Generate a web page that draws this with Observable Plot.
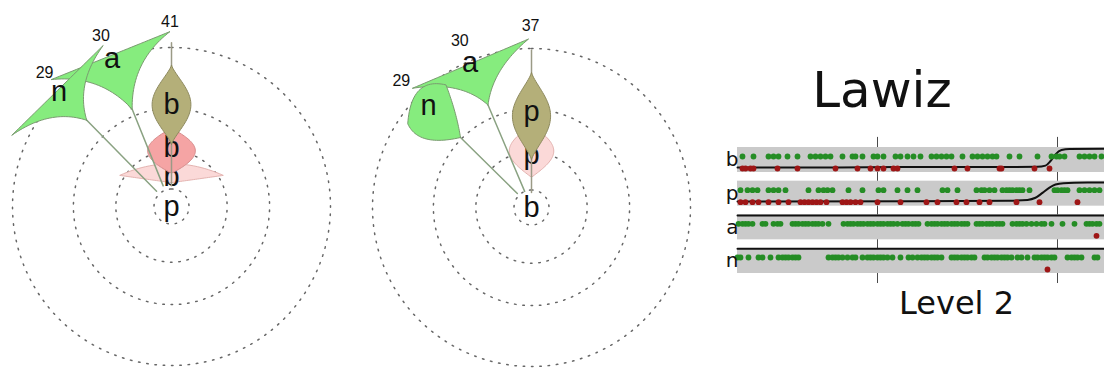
<!DOCTYPE html>
<html>
<head>
<meta charset="utf-8">
<script src="https://cdn.jsdelivr.net/npm/d3@7"></script>
<script src="https://cdn.jsdelivr.net/npm/@observablehq/plot@0.6"></script>
<style>
  html, body { margin: 0; padding: 0; background: #fff; overflow: hidden; }
  #figure { position: relative; width: 1104px; height: 371px; overflow: hidden; }
  .panel { position: absolute; top: 0; }
  .panel svg { max-width: none !important; }
  #title { position: absolute; left: 720px; width: 324px; top: 65px; font: 50px/50px "DejaVu Sans", sans-serif; text-align: center; color: #111; }
</style>
</head>
<body>
<div id="figure">
  <div id="roseLeft" class="panel" style="left:0; width:360px"></div>
  <div id="roseRight" class="panel" style="left:360px; width:360px"></div>
  <div id="title">Lawiz</div>
  <div id="strip" class="panel" style="left:720px; top:120px; width:455px"></div>
</div>
<script>
// ---- rose diagrams ----------------------------------------------------------
// Guide rings (outer ring = 1)
const ringRadii = [0.11, 0.35, 0.617, 1.0];

// Counts printed around the rim and the bearing (deg, clockwise from north) they sit at
const leftCounts = [29, 30, 41];
const leftCountAngles = [-43.5, -22.5, -0.5];
const rightCounts = [29, 30, 37];
const rightCountAngles = [-45.9, -23.3, -0.3];

// Centre category of each rose
const leftCentre = "p";
const rightCentre = "b";

// Petals: bearing, radial extent (r0 stem base, r1..r2 body), spread and bends
const leftPetals = [
  {kind: "fan", cat: "b", shade: "faint", angle: 0, span: 59, r1: 0.15, r2: 0.38, bendL: [0.735, 0.38], bendR: [0.735, 0.38], crown: [0, 0.9], labelR: 0.185},
  {kind: "violin", cat: "b", shade: "mid", angle: 0, r1: 0.21, r2: 0.49, width: 0.15, sharp: 0.9, labelR: 0.372},
  {kind: "violin", cat: "b", shade: "strong", angle: 0, r0: 0.13, tip: 1.03, r1: 0.39, r2: 0.89, width: 0.122, sharp: 1.3, labelR: 0.64},
  {kind: "fan", cat: "a", shade: "pale", angle: -22.5, span: 10.5, r1: 0.66, r2: 0.96, bendL: [0.25, 0.6], bendR: [0.25, 0.6], crown: [0, 1.0]},
  {kind: "fan", cat: "a", shade: "green", angle: -22, span: 21.5, r0: 0.14, r1: 0.66, r2: 1.1, bendL: [0.3, 0.65], bendR: [0.3, 0.65], crown: [0, 0.93], labelR: 1.0},
  {kind: "fan", cat: "n", shade: "green", angle: -44.5, span: 21.5, r0: 0.134, r1: 0.76, r2: 1.1, bendL: [0.3, 0.65], bendR: [0.3, 0.65], crown: [0, 0.93], labelR: 1.01}
];
const rightPetals = [
  {kind: "violin", cat: "p", shade: "faint", angle: 0, r1: 0.19, r2: 0.52, width: 0.14, sharp: 1.0, labelR: 0.33},
  {kind: "violin", cat: "p", shade: "strong", angle: 0, r0: 0.094, tip: 0.99, r1: 0.30, r2: 0.85, width: 0.12, sharp: 1.3, labelR: 0.6},
  {kind: "fan", cat: "a", shade: "green", angle: -23, span: 22, r0: 0.11, r1: 0.70, r2: 1.06, bendL: [0.28, 0.6], bendR: [0.33, 0.57], crown: [0, 0.927], labelR: 0.99},
  {kind: "fan", cat: "n", shade: "green", angle: -45.4, span: 10.5, r0: 0.125, r1: 0.627, r2: 0.94, bendL: [1.58, 0.575], bendR: [0.68, 0.43], crown: [0.27, 1.19], labelR: 0.91}
];

// ---- strip chart ------------------------------------------------------------
const stripRows = ["b", "p", "a", "n"];
const levelTicks = [140, 320];

const bHits = [5, 16, 31, 36, 41, 50, 60, 73, 78, 83, 88, 93, 105, 115, 118, 125, 136, 140, 146, 158, 163, 170, 176, 183, 194, 199, 204, 209, 214, 225, 235, 240, 245, 250, 255, 259, 272, 282, 300, 314, 319, 322, 327, 342, 347, 352, 357, 364];
const bMisses = [5, 8, 13, 16, 40, 60, 98, 120, 133, 140, 146, 156, 160, 217, 230, 262, 264, 297, 312];
const pHits = [3, 10, 15, 20, 31, 36, 41, 48, 71, 81, 86, 90, 95, 111, 125, 141, 146, 160, 170, 180, 205, 210, 220, 239, 244, 247, 252, 257, 265, 269, 272, 275, 279, 282, 285, 292, 317, 320, 324, 327, 330, 342, 347, 352, 357, 362];
const pMisses = [3, 8, 15, 21, 31, 41, 51, 63, 67, 71, 75, 79, 83, 89, 105, 109, 113, 118, 123, 140, 163, 189, 200, 219, 229, 242, 252, 279, 302, 340];
const aHits = [1, 5, 8, 11, 15, 25, 28, 36, 40, 43, 55, 58, 61, 65, 68, 71, 75, 78, 81, 85, 91, 106, 110, 113, 116, 120, 123, 126, 130, 133, 136, 140, 143, 146, 150, 153, 156, 160, 165, 168, 171, 175, 178, 181, 190, 194, 197, 200, 204, 207, 210, 214, 217, 220, 224, 227, 230, 239, 242, 245, 249, 252, 255, 259, 262, 265, 275, 279, 282, 285, 289, 294, 299, 304, 307, 314, 325, 337, 349, 352, 355, 359, 362];
const aMisses = [359];
const nHits = [0, 3, 11, 21, 25, 33, 41, 45, 48, 51, 55, 58, 61, 91, 95, 98, 101, 105, 110, 115, 118, 125, 130, 133, 136, 140, 143, 146, 150, 155, 163, 171, 175, 180, 184, 187, 190, 194, 197, 200, 204, 214, 217, 220, 224, 227, 230, 234, 237, 247, 250, 254, 257, 260, 264, 267, 270, 274, 280, 284, 290, 297, 300, 304, 307, 310, 314, 317, 330, 334, 337, 340, 344, 357, 360];
const nMisses = [310];

// Fitted probability of a hit along the level
const bFit = [[0, 0.03], [100, 0.03], [160, 0.05], [250, 0.05], [300, 0.06], [308, 0.12], [313, 0.36], [318, 0.7], [324, 0.92], [332, 0.98], [438, 1.0]];
const pFit = [[0, 0.01], [180, 0.02], [270, 0.05], [290, 0.09], [298, 0.2], [305, 0.45], [312, 0.72], [318, 0.88], [326, 0.95], [350, 0.98], [438, 1.0]];
const aFit = [[0, 1.02], [438, 1.02]];
const nFit = [[0, 1.04], [438, 1.04]];

// ---- drawing ------------------------------------------------------------------
const shades = {
  faint:  {fill: "#fbd9d8", stroke: "#e4b3b0"},
  mid:    {fill: "#f5a4a4", stroke: "#d68c8c"},
  strong: {fill: "#b4af79", stroke: "#8e8a5f"},
  pale:   {fill: "#e0f7db", stroke: "#a3bf9a"},
  green:  {fill: "#86ec7e", stroke: "#7a9b70"}
};
const stemColour = {strong: "#9b9a86", green: "#8aa282", mid: "#c99", faint: "#c99", pale: "#9b9"};

const rad = d => d * Math.PI / 180;
const polar = (theta, r) => ({x: r * Math.sin(rad(theta)), y: r * Math.cos(rad(theta))});

function quad(p0, c, p1, n = 28) {
  return d3.range(n + 1).map(i => {
    const t = i / n, u = 1 - t;
    return {x: u * u * p0.x + 2 * u * t * c.x + t * t * p1.x, y: u * u * p0.y + 2 * u * t * c.y + t * t * p1.y};
  });
}

// Fan petal: a vertex at r1 opening out to two tips at r2, edges as quadratic curves
function fanOutline(p) {
  const V = polar(p.angle, p.r1);
  const L = polar(p.angle - p.span, p.r2);
  const R = polar(p.angle + p.span, p.r2);
  const cL = polar(p.angle - p.span * p.bendL[0], p.r1 + (p.r2 - p.r1) * p.bendL[1]);
  const cR = polar(p.angle + p.span * p.bendR[0], p.r1 + (p.r2 - p.r1) * p.bendR[1]);
  const cO = polar(p.angle + p.span * p.crown[0], p.r2 * p.crown[1]);
  return [...quad(V, cL, L), ...quad(L, cO, R).slice(1), ...quad(R, cR, V).slice(1)];
}

// Violin petal: symmetric lens laid along the bearing
function violinOutline(p, n = 48) {
  const a = rad(p.angle);
  const ux = Math.sin(a), uy = Math.cos(a), nx = Math.cos(a), ny = -Math.sin(a);
  const side = sgn => d3.range(n + 1).map(i => {
    const t = i / n, r = p.r1 + (p.r2 - p.r1) * t;
    const w = sgn * p.width * Math.pow(Math.sin(Math.PI * t), p.sharp);
    return {x: ux * r + nx * w, y: uy * r + ny * w};
  });
  return [...side(1), ...side(-1).reverse()];
}

function rose(petals, centre, counts, countAngles, countR, cy) {
  const W = 360, H = 371, cx = 171, unit = 159;
  const font = "Liberation Sans, Arial, sans-serif";
  const rings = ringRadii.flatMap((r, k) => d3.range(0, 361, 1.5).map(a => ({k, ...polar(a, r)})));
  const marks = [
    Plot.line(rings, {x: "x", y: "y", z: "k", stroke: "#666", strokeWidth: 1.5, strokeDasharray: "1.5 6.8"})
  ];
  petals.forEach(p => {
    const s = shades[p.shade];
    if (p.r0 != null) {
      const end = p.kind === "violin" ? p.tip : p.r1;
      marks.push(Plot.line([polar(p.angle, p.r0), polar(p.angle, end)],
        {x: "x", y: "y", stroke: stemColour[p.shade], strokeWidth: 1.5}));
    }
    const outline = p.kind === "fan" ? fanOutline(p) : violinOutline(p);
    marks.push(Plot.line(outline, {x: "x", y: "y", fill: s.fill, stroke: s.stroke, strokeWidth: 1, strokeLinejoin: "round"}));
    if (p.labelR != null) {
      marks.push(Plot.text([p], {
        x: d => polar(d.angle, d.labelR).x, y: d => polar(d.angle, d.labelR).y,
        text: "cat", fontSize: 29, fontFamily: font, fill: "#111"
      }));
    }
  });
  marks.push(Plot.text([centre], {x: 0, y: 0, text: d => d, fontSize: 29, fontFamily: font, fill: "#111"}));
  marks.push(Plot.text(counts, {
    x: (d, i) => polar(countAngles[i], countR).x, y: (d, i) => polar(countAngles[i], countR).y,
    text: d => String(d), fontSize: 16, fontFamily: font, fill: "#111"
  }));
  return Plot.plot({
    width: W, height: H, margin: 0,
    x: {domain: [-cx / unit, (W - cx) / unit], axis: null},
    y: {domain: [-(H - cy) / unit, cy / unit], axis: null},
    style: {background: "transparent", overflow: "visible", maxWidth: "none"},
    marks
  });
}

document.getElementById("roseLeft").append(rose(leftPetals, leftCentre, leftCounts, leftCountAngles, 1.16, 206));
document.getElementById("roseRight").append(rose(rightPetals, rightCentre, rightCounts, rightCountAngles, 1.14, 207));

// Strip chart: one grey band per category, hits above, misses below, fitted curve on top
const step = 33.67;
const rowSets = [[bHits, bMisses, bFit], [pHits, pMisses, pFit], [aHits, aMisses, aFit], [nHits, nMisses, nFit]];
const hitDots = stripRows.flatMap((row, i) => rowSets[i][0].map(x => ({row, x, y: i + 9 / step})));
const missDots = stripRows.flatMap((row, i) => rowSets[i][1].map(x => ({row, x, y: i + 21 / step})));
const fits = stripRows.flatMap((row, i) => rowSets[i][2].map(([x, v]) => ({row, x, y: i + (20.5 - 19.5 * v) / step})));
const xMax = 438;

const strip = Plot.plot({
  width: 17 + xMax, height: 220,
  marginLeft: 17, marginRight: 0, marginTop: 27, marginBottom: 220 - 27 - 4 * step,
  x: {domain: [0, xMax], axis: null},
  y: {domain: [0, 4], reverse: true, axis: null},
  style: {background: "transparent", overflow: "visible", maxWidth: "none"},
  marks: [
    Plot.ruleX(levelTicks, {y1: -0.3, y2: 4.04, stroke: "#4a4a4a", strokeWidth: 1}),
    Plot.rect(stripRows, {x1: 0, x2: xMax, y1: (d, i) => i, y2: (d, i) => i + 25 / step, fill: "#cacaca"}),
    Plot.line(fits, {x: "x", y: "y", z: "row", stroke: "#111", strokeWidth: 2, curve: "monotone-x"}),
    Plot.dot(hitDots, {x: "x", y: "y", r: 2.9, fill: "#258d25"}),
    Plot.dot(missDots, {x: "x", y: "y", r: 2.9, fill: "#9e1616"}),
    Plot.text(stripRows, {x: 0, y: (d, i) => i + 0.37, text: d => d, textAnchor: "end", dx: 1, fontSize: 20, fontFamily: "DejaVu Sans", fill: "#111"}),
    Plot.text(["Level 2"], {x: xMax / 2, y: 4.63, text: d => d, fontSize: 32, fontFamily: "DejaVu Sans", fill: "#111"})
  ]
});
document.getElementById("strip").append(strip);
</script>
</body>
</html>
